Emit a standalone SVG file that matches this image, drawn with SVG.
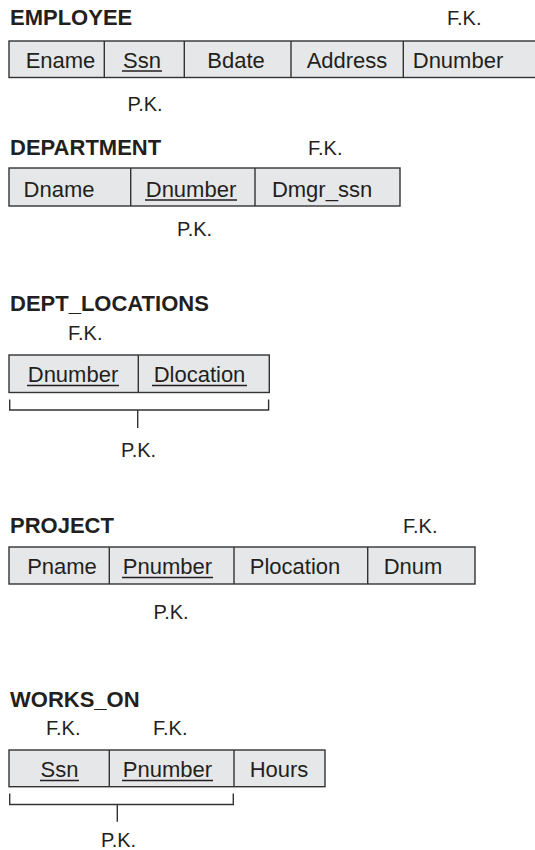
<svg xmlns="http://www.w3.org/2000/svg" width="535" height="850" viewBox="0 0 535 850">
<style>
.title{font-family:"Liberation Sans",Arial,sans-serif;font-weight:bold;font-size:22px;fill:#231f20}
.lbl{font-family:"Liberation Sans",Arial,sans-serif;font-size:20px;fill:#231f20}
.cell{font-family:"Liberation Sans",Arial,sans-serif;font-size:22px;fill:#231f20;text-anchor:middle}
.box{fill:#e6e7e8;stroke:#333;stroke-width:1.4}
.div{stroke:#333;stroke-width:1.4}
.ul{stroke:#231f20;stroke-width:1.3}
.br{fill:none;stroke:#333;stroke-width:1.4}
</style>
<rect width="535" height="850" fill="#fff"/>

<g id="employee">
<text class="title" x="10" y="25">EMPLOYEE</text>
<text class="lbl" x="447" y="25">F.K.</text>
<rect class="box" x="9" y="41" width="540" height="36.5"/>
<line class="div" x1="104.3" y1="41" x2="104.3" y2="77.5"/>
<line class="div" x1="184.3" y1="41" x2="184.3" y2="77.5"/>
<line class="div" x1="291" y1="41" x2="291" y2="77.5"/>
<line class="div" x1="403.3" y1="41" x2="403.3" y2="77.5"/>
<text class="cell" x="60.5" y="68">Ename</text>
<text class="cell" x="142" y="68">Ssn</text>
<line class="ul" x1="122" y1="71" x2="162" y2="71"/>
<text class="cell" x="236" y="68">Bdate</text>
<text class="cell" x="347" y="68">Address</text>
<text class="cell" x="458" y="68">Dnumber</text>
<text class="lbl" x="145" y="111" text-anchor="middle">P.K.</text>
</g>

<g id="department">
<text class="title" x="10" y="155">DEPARTMENT</text>
<text class="lbl" x="308" y="155">F.K.</text>
<rect class="box" x="9" y="168" width="391" height="38"/>
<line class="div" x1="130.7" y1="168" x2="130.7" y2="206"/>
<line class="div" x1="255" y1="168" x2="255" y2="206"/>
<text class="cell" x="59" y="197">Dname</text>
<text class="cell" x="191" y="197">Dnumber</text>
<line class="ul" x1="145" y1="200" x2="237" y2="200"/>
<text class="cell" x="322" y="197">Dmgr_ssn</text>
<text class="lbl" x="194.5" y="236" text-anchor="middle">P.K.</text>
</g>

<g id="dept_locations">
<text class="title" x="10" y="311">DEPT_LOCATIONS</text>
<text class="lbl" x="68" y="340">F.K.</text>
<rect class="box" x="9" y="355" width="260.3" height="37.5"/>
<line class="div" x1="138.3" y1="355" x2="138.3" y2="392.5"/>
<text class="cell" x="73" y="382">Dnumber</text>
<line class="ul" x1="27" y1="385.5" x2="119" y2="385.5"/>
<text class="cell" x="199.5" y="382">Dlocation</text>
<line class="ul" x1="152" y1="385.5" x2="247" y2="385.5"/>
<text class="lbl" x="138.5" y="456.5" text-anchor="middle">P.K.</text>
</g>

<g id="project">
<text class="title" x="10" y="533">PROJECT</text>
<text class="lbl" x="403" y="533">F.K.</text>
<rect class="box" x="9" y="547" width="466" height="37"/>
<line class="div" x1="109.3" y1="547" x2="109.3" y2="584"/>
<line class="div" x1="234" y1="547" x2="234" y2="584"/>
<line class="div" x1="367.7" y1="547" x2="367.7" y2="584"/>
<text class="cell" x="62" y="574">Pname</text>
<text class="cell" x="167.5" y="574">Pnumber</text>
<line class="ul" x1="122" y1="577.5" x2="213" y2="577.5"/>
<text class="cell" x="295" y="574">Plocation</text>
<text class="cell" x="413" y="574">Dnum</text>
<text class="lbl" x="171" y="619" text-anchor="middle">P.K.</text>
</g>

<g id="works_on">
<text class="title" x="10" y="706.5">WORKS_ON</text>
<text class="lbl" x="46" y="735">F.K.</text>
<text class="lbl" x="153" y="735">F.K.</text>
<rect class="box" x="9" y="750" width="316" height="36.7"/>
<line class="div" x1="109.3" y1="750" x2="109.3" y2="786.7"/>
<line class="div" x1="234" y1="750" x2="234" y2="786.7"/>
<text class="cell" x="59.5" y="777">Ssn</text>
<line class="ul" x1="40" y1="780.5" x2="79" y2="780.5"/>
<text class="cell" x="167.5" y="777">Pnumber</text>
<line class="ul" x1="122" y1="780.5" x2="213" y2="780.5"/>
<text class="cell" x="279" y="777">Hours</text>
<text class="lbl" x="118.5" y="847" text-anchor="middle">P.K.</text>
</g>

<g id="connectors">
<path class="br" d="M9.7 399.5 V410 H268.6 V399.5 M137.7 410 V428"/>
<path class="br" d="M9.7 793.5 V804.5 H233.3 V793.5 M117.3 804.5 V821.7"/>
</g>
</svg>
